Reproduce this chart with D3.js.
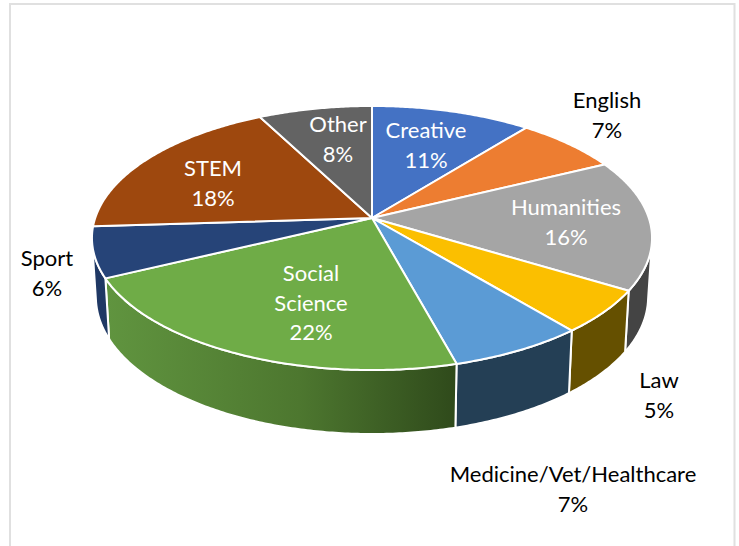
<!DOCTYPE html>
<html>
<head>
<meta charset="utf-8">
<script src="https://cdn.jsdelivr.net/npm/d3@7"></script>
<style>
  html, body { margin: 0; padding: 0; background: #fff; }
  text { font-family: Lato, "Open Sans", sans-serif; font-size: 22px; }
</style>
</head>
<body>
<div class="graph"></div>
<script>
// Chart data; the labels show them rounded
let categories = ["Creative", "English", "Humanities", "Law", "Medicine/Vet/Healthcare", "Social Science", "Sport", "STEM", "Other"];
let shares = [10.7, 7.0, 16.0, 5.3, 6.8, 22.0, 6.2, 18.4, 7.6];

// Colours
let topColors = ["#4472c4", "#ed7d31", "#a5a5a5", "#fbbf00", "#5b9bd5", "#6fac47", "#264478", "#9e480e", "#636363"];
let wallColors = ["#2f4f88", "#a4571f", "#444444", "#655000", "#243f55", "#4f7a30", "#1f3864", "#6d320a", "#454545"];
let labelColors = ["#fff", "#000", "#fff", "#000", "#000", "#fff", "#000", "#fff", "#fff"];

// Label anchors, centre of the first line
let labelX = [426, 607, 566, 659, 573, 311, 47, 213, 338];
let labelY = [132, 102, 209, 382, 476, 275, 260, 170, 126];

let width = 739;
let height = 546;
let lineGap = 29.5;

// Pie tilt: the apex sits above the middle of the rim ellipse
let cx = 372;
let cy = 218;
let a = 276.8;
let b = 129;
let k = 0.1515;
let wallStart = (100 * Math.PI) / 180;
let wallEnd = (260 * Math.PI) / 180;

function topPoint(t) {
  let u = Math.sin(t);
  let v = -Math.cos(t);
  let w = 1 - k * v;
  return [cx + (a * u) / w, cy + (b * v) / w];
}

function bottomPoint(t) {
  let p = topPoint(t);
  return [cx + (p[0] - cx) * 0.986, p[1] + 58 + 6 * -Math.cos(t)];
}

function rim(t0, t1, fn) {
  let n = Math.max(2, Math.ceil((t1 - t0) / 0.01));
  return d3.range(n + 1).map((i) => fn(t0 + ((t1 - t0) * i) / n));
}

let line = d3.line().curve(d3.curveLinear);
let pie = d3.pie().sort(null).value((d) => d);
let arcs = pie(shares);
let color = d3.scaleOrdinal().domain(categories).range(topColors);
let wallColor = d3.scaleOrdinal().domain(categories).range(wallColors);
let percent = d3.format(".0%");

let svg = d3
  .select(".graph")
  .append("svg")
  .attr("width", width)
  .attr("height", height)
  .style("display", "block");

// Frame, runs off the bottom of the picture
svg
  .append("path")
  .attr("d", line([[10, height], [10, 4], [734.5, 4], [734.5, height]]))
  .attr("fill", "none")
  .attr("stroke", "#e0e0e0")
  .attr("stroke-width", 2);

// Wall gradient for the big green side
let defs = svg.append("defs");
let grad = defs
  .append("linearGradient")
  .attr("id", "socialWall")
  .attr("gradientUnits", "userSpaceOnUse")
  .attr("x1", 108)
  .attr("x2", 456)
  .attr("y1", 0)
  .attr("y2", 0);
grad.append("stop").attr("offset", 0).attr("stop-color", "#60943f");
grad.append("stop").attr("offset", 0.55).attr("stop-color", "#4d772f");
grad.append("stop").attr("offset", 1).attr("stop-color", "#2f4a1b");

// Walls
let walls = arcs.filter((d) => d.endAngle > wallStart && d.startAngle < wallEnd);
svg
  .append("g")
  .selectAll("path")
  .data(walls)
  .enter()
  .append("path")
  .attr("d", (d) => {
    let t0 = Math.max(d.startAngle, wallStart);
    let t1 = Math.min(d.endAngle, wallEnd);
    return line(rim(t0, t1, topPoint).concat(rim(t0, t1, bottomPoint).reverse())) + "Z";
  })
  .attr("fill", (d, i) => {
    let name = categories[d.index];
    return name === "Social Science" ? "url(#socialWall)" : wallColor(name);
  })
  .attr("stroke", "#fff")
  .attr("stroke-width", 2)
  .attr("stroke-linejoin", "round");

// Top slices
svg
  .append("g")
  .selectAll("path")
  .data(arcs)
  .enter()
  .append("path")
  .attr("d", (d) => line([[cx, cy]].concat(rim(d.startAngle, d.endAngle, topPoint))) + "Z")
  .attr("fill", (d) => color(categories[d.index]))
  .attr("stroke", "#fff")
  .attr("stroke-width", 2)
  .attr("stroke-linejoin", "round");

// Labels
let labels = svg
  .append("g")
  .selectAll("text")
  .data(arcs)
  .enter()
  .append("text")
  .attr("text-anchor", "middle")
  .attr("dominant-baseline", "middle")
  .attr("fill", (d) => labelColors[d.index]);

labels.each(function (d) {
  let parts = categories[d.index].split(" ").concat(percent(d.value / 100));
  d3.select(this)
    .selectAll("tspan")
    .data(parts)
    .enter()
    .append("tspan")
    .attr("x", labelX[d.index])
    .attr("y", (p, i) => labelY[d.index] + i * lineGap)
    .text((p) => p);
});
</script>
</body>
</html>
